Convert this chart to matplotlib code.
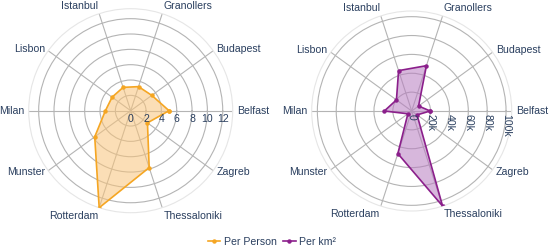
import matplotlib.pyplot as plt
import numpy as np

plt.rcParams['font.family'] = ['Liberation Sans', 'DejaVu Sans']

cities = ["Belfast", "Budapest", "Granollers", "Istanbul", "Lisbon",
          "Milan", "Munster", "Rotterdam", "Thessaloniki", "Zagreb"]
per_person = [5.0, 3.4, 3.3, 3.2, 3.0, 3.3, 5.8, 13.3, 7.8, 2.7]
per_km2 = [19600, 9000, 50500, 45000, 20000, 29000, 5000, 47500, 106000, 7000]

left_ticks = [0, 2, 4, 6, 8, 10, 12]
left_tick_labels = ["0", "2", "4", "6", "8", "10", "12"]
right_ticks = [0, 20000, 40000, 60000, 80000, 100000]
right_tick_labels = ["0", "20k", "40k", "60k", "80k", "100k"]

text_col = "#2a3f5f"
grid_col = "#b4b4b4"
W, H = 550, 249

fig = plt.figure(figsize=(5.5, 2.49), dpi=100)


def radar(cx, cy, rad, values, ticks, tick_labels, line_col, fill_col, label, rotate):
    ax = fig.add_axes([(cx - rad) / W, (H - cy - rad) / H, 2 * rad / W, 2 * rad / H],
                      projection="polar")
    ang = np.deg2rad(np.arange(len(cities)) * 36.0)
    a = np.append(ang, ang[0])
    v = np.append(values, values[0])
    ax.fill(a, v, color=fill_col, alpha=0.55, lw=0, zorder=2)
    ax.plot(a, v, color=line_col, lw=1.2, marker="o", ms=2.2, label=label, zorder=3)
    rmax = max(values)
    ax.set_ylim(0, rmax)
    ax.set_yticks(ticks[1:])
    ax.set_yticklabels([])
    ax.set_xticks(ang)
    ax.set_xticklabels([])
    ax.grid(color=grid_col, lw=0.8)
    ax.spines["polar"].set_color("#e6e6e6")
    ax.spines["polar"].set_linewidth(0.8)
    ax.tick_params(length=0)
    # category labels
    for th, name in zip(ang, cities):
        c, s = np.cos(th), np.sin(th)
        ha = "left" if c > 0.1 else ("right" if c < -0.1 else "center")
        va = "bottom" if s > 0.8 else ("top" if s < -0.8 else "center")
        px = cx + (rad + 4) * c
        py = cy - (rad + 3) * s
        fig.text(px / W, 1 - py / H, name, ha=ha, va=va, fontsize=7.6, color=text_col)
    # radial tick labels along the 0 degree spoke
    for t, lab in zip(ticks, tick_labels):
        px = cx + rad * t / rmax
        if rotate:
            fig.text(px / W, 1 - (cy + 3) / H, lab, ha="center", va="top", rotation=-90,
                     fontsize=7.6, color=text_col)
        else:
            fig.text(px / W, 1 - (cy + 3) / H, lab, ha="center", va="top",
                     fontsize=7.6, color=text_col)
    return ax


ax1 = radar(130.7, 110.7, 102, per_person, left_ticks, left_tick_labels,
            "#f5a623", "#f9c47a", "Per Person", False)
ax2 = radar(411.7, 111, 100, per_km2, right_ticks, right_tick_labels,
            "#8b1f8b", "#b77cc0", "Per km²", True)

h1, l1 = ax1.get_legend_handles_labels()
h2, l2 = ax2.get_legend_handles_labels()
fig.legend(h1 + h2, l1 + l2, loc="lower center", bbox_to_anchor=(0.494, -0.03),
           ncol=2, frameon=False, fontsize=7.6, handlelength=1.2, handletextpad=0.3,
           columnspacing=0.6, labelcolor=text_col)

fig.savefig("out.png", dpi=100)
